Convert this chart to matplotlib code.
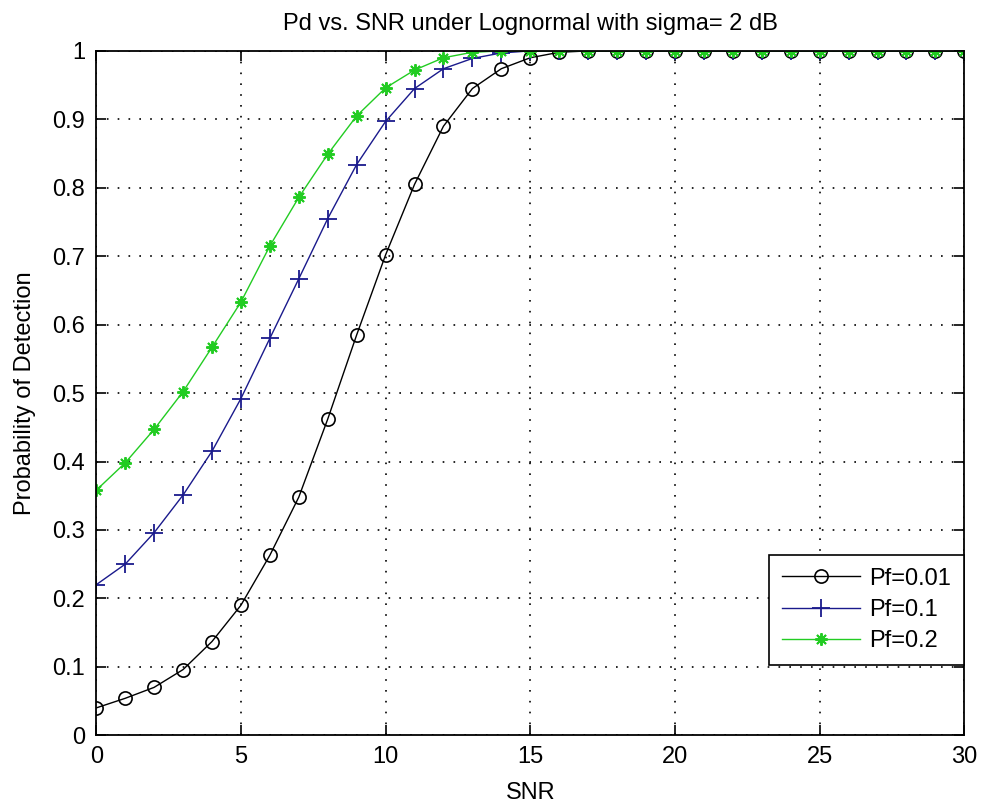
import numpy as np
import matplotlib
matplotlib.use('Agg')
from matplotlib import pyplot as plt

snr = list(range(0, 31))
pd_001 = [0.040, 0.054, 0.070, 0.096, 0.137, 0.190, 0.263, 0.348, 0.462, 0.585,
          0.702, 0.805, 0.890, 0.945, 0.974, 0.990, 0.998] + [1.0] * 14
pd_01 = [0.220, 0.250, 0.296, 0.351, 0.415, 0.492, 0.580, 0.667, 0.755, 0.834,
         0.897, 0.945, 0.974, 0.989, 0.997] + [1.0] * 16
pd_02 = [0.358, 0.398, 0.447, 0.502, 0.567, 0.633, 0.715, 0.786, 0.849, 0.905,
         0.946, 0.972, 0.990, 0.998] + [1.0] * 17
labels = ['Pf=0.01', 'Pf=0.1', 'Pf=0.2']
xticks = [0, 5, 10, 15, 20, 25, 30]
yticks = [0, 0.1, 0.2, 0.3, 0.4, 0.5, 0.6, 0.7, 0.8, 0.9, 1]
ytick_labels = ['0', '0.1', '0.2', '0.3', '0.4', '0.5', '0.6', '0.7', '0.8', '0.9', '1']

plt.rcParams['font.family'] = ['Liberation Sans', 'DejaVu Sans']
fs = 17

fig = plt.figure(figsize=(9.82, 8.08), dpi=100)
ax = fig.add_axes([0.098, 0.090, 0.884, 0.847])

ax.plot(snr, pd_001, color='k', lw=1, marker='o', ms=9.5, mfc='none', mew=1.2, label=labels[0])
ax.plot(snr, pd_01, color='#1a1a8c', lw=1, marker='+', ms=13, mew=1.3, label=labels[1])
ax.plot(snr, pd_02, color='#22cc22', lw=1, marker=(8, 2, 0), ms=9, mew=1.4, label=labels[2])

ax.set_xlim(0, 30)
ax.set_ylim(0, 1)
ax.set_xticks(xticks)
ax.set_yticks(yticks)
ax.set_yticklabels(ytick_labels)
ax.tick_params(direction='in', top=True, right=True, labelsize=fs, length=7, width=1.2, pad=8)
ax.grid(True, color='k', linestyle=(0, (1, 5.5)), linewidth=1.2)
for s in ax.spines.values():
    s.set_linewidth(1.3)

ax.set_title('Pd vs. SNR under Lognormal with sigma= 2 dB', fontsize=fs, pad=15)
ax.set_xlabel('SNR', fontsize=fs, labelpad=10)
ax.set_ylabel('Probability of Detection', fontsize=fs, labelpad=12)

leg = ax.legend(loc='lower right', bbox_to_anchor=(1.0, 0.102), fontsize=fs, fancybox=False,
                framealpha=1, edgecolor='k', borderpad=0.55, handlelength=3.3, labelspacing=0.4,
                handletextpad=0.4, borderaxespad=0)
leg.get_frame().set_linewidth(1.2)

plt.savefig('out.png', dpi=100)
